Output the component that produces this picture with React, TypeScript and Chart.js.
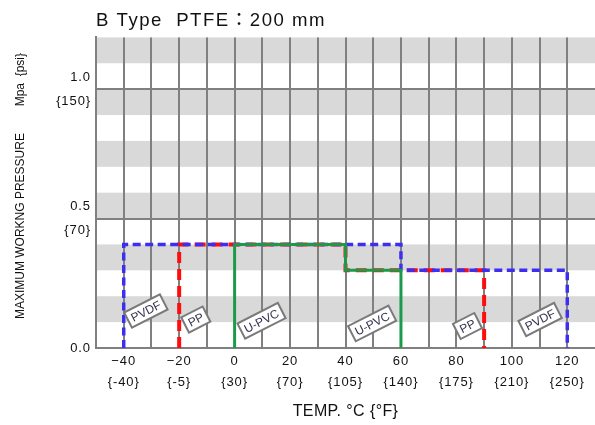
import React, { useEffect, useRef } from 'react';
import { Chart, registerables } from 'chart.js';

Chart.register(...registerables);

const FONT = "'Liberation Sans', Arial, 'Noto Sans CJK JP', sans-serif";

const titleText = 'B Type  PTFE：200 mm';
const xAxisTitle = 'TEMP. °C {°F}';
const yAxisTitle = '    MAXIMUM WORKNG PRESSURE        Mpa  {psi}';

const xTickValues = [-40, -20, 0, 20, 40, 60, 80, 100, 120];
const xTickCelsius = ['−40', '−20', '0', '20', '40', '60', '80', '100', '120'];
const xTickFahrenheit = ['{-40}', '{-5}', '{30}', '{70}', '{105}', '{140}', '{175}', '{210}', '{250}'];

const yTickValues = [0, 0.5, 1.0];
const yTickMpa = ['0.0', '0.5', '1.0'];
const yTickPsi = ['', '{70}', '{150}'];

const bandStarts = [0.1, 0.3, 0.5, 0.7, 0.9, 1.1];
const bandSize = 0.1;

const pvdfTemp = [-40, -40, 60, 60, 120, 120];
const pvdfPressure = [0, 0.4, 0.4, 0.3, 0.3, 0];
const ppTemp = [-20, -20, 40, 40, 90, 90];
const ppPressure = [0, 0.4, 0.4, 0.3, 0.3, 0];
const upvcTemp = [0, 0, 40, 40, 60, 60];
const upvcPressure = [0, 0.4, 0.4, 0.3, 0.3, 0];

const tagTexts = ['PVDF', 'PP', 'U-PVC', 'U-PVC', 'PP', 'PVDF'];
const tagTemp = [-32, -14, 9.7, 49.6, 84, 110.2];
const tagPressure = [0.143, 0.11, 0.105, 0.095, 0.085, 0.11];

const toPoints = (xs: number[], ys: number[]) => xs.map((x, i) => ({ x, y: ys[i] }));

const setSpacing = (ctx: any, v: string) => {
  if ('letterSpacing' in ctx) ctx.letterSpacing = v;
};

// wraps a scale drawing method so it uses its own letter spacing
const wrapSpacing = (scale: any, method: string, spacing: string) => {
  const key = '__wrapped_' + method;
  if (scale[key]) return;
  const orig = scale[method];
  scale[method] = function (...args: any[]) {
    const c = this.ctx;
    c.save();
    setSpacing(c, spacing);
    orig.apply(this, args);
    c.restore();
  };
  scale[key] = true;
};

const bandsPlugin = {
  id: 'bands',
  beforeDraw(chart: any) {
    const { ctx, chartArea, scales } = chart;
    const y = scales.y;
    ctx.save();
    ctx.fillStyle = '#d9d9d9';
    bandStarts.forEach((b) => {
      const top = y.getPixelForValue(b + bandSize);
      const bottom = y.getPixelForValue(b);
      ctx.fillRect(chartArea.left, top, chartArea.right - chartArea.left, bottom - top);
    });
    ctx.restore();
    setSpacing(ctx, '1.5px');
  },
  afterDraw(chart: any) {
    setSpacing(chart.ctx, '0px');
  },
};

const tagsPlugin = {
  id: 'tags',
  afterDatasetsDraw(chart: any) {
    const { ctx, scales } = chart;
    const x = scales.x;
    const y = scales.y;
    ctx.save();
    setSpacing(ctx, '0px');
    ctx.font = `12px ${FONT}`;
    tagTexts.forEach((t, i) => {
      const px = x.getPixelForValue(tagTemp[i]);
      const py = y.getPixelForValue(tagPressure[i]);
      ctx.save();
      ctx.translate(px, py);
      ctx.rotate((-27 * Math.PI) / 180);
      const w = ctx.measureText(t).width + 8;
      const h = 17;
      ctx.fillStyle = '#ffffff';
      ctx.fillRect(-w / 2, -h / 2, w, h);
      ctx.strokeStyle = '#7a7a7a';
      ctx.lineWidth = 2;
      ctx.strokeRect(-w / 2, -h / 2, w, h);
      ctx.fillStyle = '#33334d';
      ctx.textAlign = 'center';
      ctx.textBaseline = 'middle';
      ctx.fillText(t, 0, 1);
      ctx.restore();
    });
    ctx.restore();
  },
};

export default function App() {
  const canvasRef = useRef<HTMLCanvasElement | null>(null);

  useEffect(() => {
    if (!canvasRef.current) return;
    const chart = new Chart(canvasRef.current, {
      type: 'line',
      data: {
        datasets: [
          {
            label: 'U-PVC',
            data: toPoints(upvcTemp, upvcPressure),
            borderColor: '#1b9a4a',
            borderWidth: 3,
            pointRadius: 0,
            tension: 0,
            fill: false,
            borderJoinStyle: 'miter',
          },
          {
            label: 'PVDF',
            data: toPoints(pvdfTemp, pvdfPressure),
            borderColor: '#3d2ff2',
            borderWidth: 3.5,
            borderDash: [8, 4.5],
            pointRadius: 0,
            tension: 0,
            fill: false,
            borderJoinStyle: 'miter',
          },
          {
            label: 'PP',
            data: toPoints(ppTemp, ppPressure),
            borderColor: '#ff0d0d',
            borderWidth: 4,
            borderDash: [11, 6],
            pointRadius: 0,
            tension: 0,
            fill: false,
            borderJoinStyle: 'miter',
          },
        ],
      },
      options: {
        animation: false,
        responsive: false,
        maintainAspectRatio: false,
        layout: { padding: { top: 4, left: 0, right: 0, bottom: 0 } },
        font: { family: FONT },
        plugins: {
          legend: { display: false },
          tooltip: { enabled: false },
          title: {
            display: true,
            text: titleText,
            align: 'start',
            fullSize: false,
            color: '#111111',
            font: { family: FONT, size: 18.6, weight: 'normal', lineHeight: 1.15 },
            padding: { top: 6, bottom: 6 },
          },
        },
        scales: {
          x: {
            type: 'linear',
            min: -50,
            max: 130,
            afterFit: (scale: any) => {
              scale.height = 77;
              scale.paddingLeft = 0;
              scale.paddingRight = 0;
              wrapSpacing(scale, 'drawTitle', '0.4px');
              wrapSpacing(scale, 'drawLabels', '0.9px');
            },
            ticks: {
              stepSize: 10,
              autoSkip: false,
              maxRotation: 0,
              minRotation: 0,
              padding: 3,
              color: '#111111',
              font: { family: FONT, size: 13, lineHeight: 1.62 },
              callback: (value: any) => {
                const i = xTickValues.indexOf(Number(value));
                return i >= 0 ? [xTickCelsius[i], xTickFahrenheit[i]] : '';
              },
            },
            grid: {
              drawTicks: false,
              lineWidth: 2,
              color: (ctx: any) => (ctx.tick && ctx.tick.value === 130 ? 'rgba(0,0,0,0)' : '#808080'),
            },
            border: { display: true, color: '#808080', width: 2 },
            title: {
              display: true,
              text: xAxisTitle,
              color: '#111111',
              font: { family: FONT, size: 16, lineHeight: 1.2 },
              padding: { top: 0, bottom: 4 },
            },
          },
          y: {
            type: 'linear',
            min: 0,
            max: 1.2,
            afterBuildTicks: (scale: any) => {
              scale.ticks = yTickValues.map((v) => ({ value: v }));
            },
            afterFit: (scale: any) => {
              scale.width = 96;
              scale.paddingTop = 0;
              scale.paddingBottom = 0;
              wrapSpacing(scale, 'drawTitle', '0px');
              wrapSpacing(scale, 'drawLabels', '0.9px');
            },
            ticks: {
              padding: 5,
              color: '#111111',
              font: { family: FONT, size: 13, lineHeight: 1.85 },
              callback: (value: any) => {
                const i = yTickValues.indexOf(Number(value));
                if (i < 0) return '';
                return yTickPsi[i] ? [yTickMpa[i], yTickPsi[i]] : yTickMpa[i];
              },
            },
            grid: {
              drawTicks: false,
              lineWidth: 2,
              color: '#808080',
            },
            border: { display: true, color: '#808080', width: 2 },
            title: {
              display: true,
              text: yAxisTitle,
              color: '#111111',
              font: { family: FONT, size: 12, lineHeight: 1.2 },
              padding: { top: 13, bottom: 0 },
            },
          },
        },
      },
      plugins: [bandsPlugin, tagsPlugin],
    } as any);
    return () => chart.destroy();
  }, []);

  return (
    <div style={{ position: 'fixed', left: 0, top: 0, width: 595, height: 425, background: '#ffffff' }}>
      <canvas ref={canvasRef} width={595} height={425} style={{ display: 'block' }} />
    </div>
  );
}
